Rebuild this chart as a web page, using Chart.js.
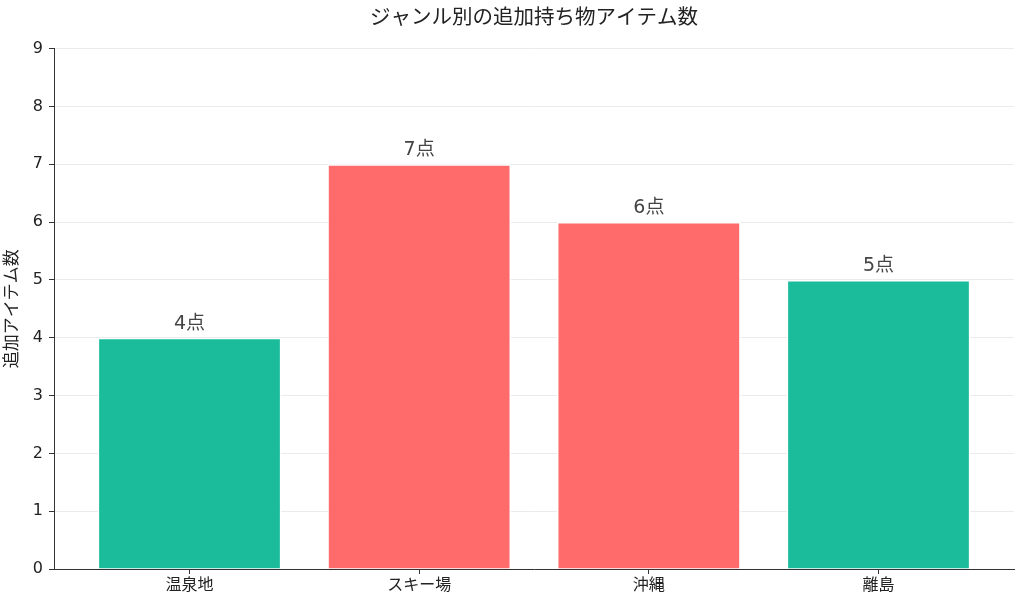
<!DOCTYPE html>
<html lang="ja">
<head>
  <meta charset="UTF-8">
  <title>ジャンル別の追加持ち物アイテム数</title>
  <script src="https://cdn.jsdelivr.net/npm/chart.js"></script>
  <style>
    html, body { margin: 0; padding: 0; background: #ffffff; }
    #wrap { width: 1024px; height: 607px; }
  </style>
</head>
<body>
  <div id="wrap"><canvas id="chart"></canvas></div>
  <script>
    // Data
    const genres = ['温泉地', 'スキー場', '沖縄', '離島'];
    const itemCounts = [4, 7, 6, 5];
    const barColors = ['#1abc9c', '#ff6b6b', '#ff6b6b', '#1abc9c'];
    const yTicks = [0, 1, 2, 3, 4, 5, 6, 7, 8, 9];

    const FONT = "'DejaVu Sans', 'Noto Sans CJK JP', sans-serif";

    // value labels above each bar
    const valueLabels = {
      id: 'valueLabels',
      afterDatasetsDraw(chart) {
        const ctx = chart.ctx;
        const meta = chart.getDatasetMeta(0);
        ctx.save();
        ctx.font = '19px ' + FONT;
        ctx.fillStyle = '#444444';
        ctx.textAlign = 'center';
        ctx.textBaseline = 'alphabetic';
        meta.data.forEach((bar, i) => {
          ctx.fillText(itemCounts[i] + '点', bar.x, bar.y - 9);
        });
        ctx.restore();
      }
    };

    new Chart(document.getElementById('chart'), {
      type: 'bar',
      data: {
        datasets: [{
          data: itemCounts.map((v, i) => ({ x: i, y: v })),
          backgroundColor: barColors,
          borderColor: '#ffffff',
          borderWidth: 1.5,
          categoryPercentage: 1.0,
          barPercentage: 0.8
        }]
      },
      options: {
        responsive: true,
        maintainAspectRatio: false,
        animation: false,
        layout: { padding: { left: 0, right: 10, top: 0, bottom: 0 } },
        plugins: {
          legend: { display: false },
          tooltip: { enabled: false },
          title: {
            display: true,
            fullSize: false,
            text: 'ジャンル別の追加持ち物アイテム数',
            color: '#222222',
            font: { family: FONT, size: 20.5, weight: 'normal' },
            padding: { top: 6, bottom: 18 }
          }
        },
        scales: {
          x: {
            type: 'linear',
            offset: false,
            min: -0.59,
            max: 3.59,
            afterBuildTicks(scale) {
              scale.ticks = genres.map((g, i) => ({ value: i }));
            },
            afterFit(scale) { scale.height = 38; },
            ticks: {
              color: '#222222',
              font: { family: FONT, size: 16 },
              padding: 2,
              maxRotation: 0,
              autoSkip: false,
              callback: (v) => genres[v]
            },
            grid: {
              offset: false,
              drawOnChartArea: false,
              drawTicks: true,
              tickLength: 5,
              tickColor: '#333333'
            },
            border: { color: '#333333', width: 1 }
          },
          y: {
            min: 0,
            max: 9,
            afterBuildTicks(scale) {
              scale.ticks = yTicks.map(v => ({ value: v }));
            },
            afterFit(scale) { scale.width = 54; },
            ticks: {
              color: '#222222',
              font: { family: FONT, size: 16 },
              padding: 6
            },
            grid: {
              color: '#ebebeb',
              lineWidth: 1,
              tickLength: 5,
              tickColor: '#333333'
            },
            border: { color: '#333333', width: 1 },
            title: {
              display: true,
              text: '追加アイテム数',
              color: '#222222',
              font: { family: FONT, size: 17 },
              padding: { top: 2, bottom: 0 }
            }
          }
        }
      },
      plugins: [valueLabels]
    });
  </script>
</body>
</html>
